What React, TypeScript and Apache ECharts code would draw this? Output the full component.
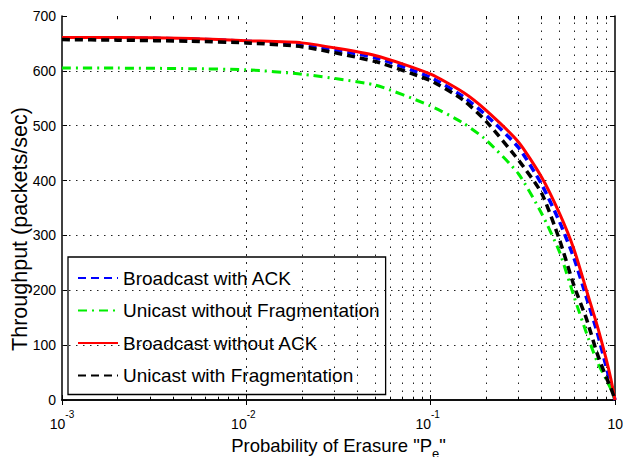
import React, { useEffect, useRef } from "react";
import * as echarts from "echarts";

// Probability of erasure (x) and throughput readings (packets/sec)
const pValues = [0.001, 0.002, 0.005, 0.01, 0.02, 0.05, 0.1, 0.15, 0.2, 0.3, 0.4, 0.5, 0.6, 0.7, 0.8, 0.9, 0.95, 1];
const broadcastWithAck = [660, 660, 658, 654, 648, 624, 588, 553, 519, 460, 393, 325, 258, 187, 124, 58, 28, 0];
const unicastWithoutFrag = [605, 605, 604, 602, 594, 574, 536, 505, 474, 412, 340, 270, 188, 122, 70, 36, 20, 0];
const broadcastWithoutAck = [661, 661, 659, 655, 651, 628, 594, 561, 528, 470, 406, 340, 274, 200, 136, 72, 38, 0];
const unicastWithFrag = [657, 656, 654, 651, 644, 617, 582, 547, 508, 437, 377, 292, 208, 148, 85, 40, 22, 0];

const seriesNames = [
  "Broadcast with ACK",
  "Unicast without Fragmentation",
  "Broadcast without ACK",
  "Unicast with Fragmentation",
];

const yMin = 0;
const yMax = 700;
const yInterval = 100;
const yGridValues = [100, 200, 300, 400, 500, 600];
const xMin = 0.001;
const xMax = 1;
const decades = [0.001, 0.01, 0.1];
const decadeGridValues = [0.01, 0.1];
const minorMultipliers = [2, 3, 4, 5, 6, 7, 8, 9];

const SANS = "'Liberation Sans', Arial, Helvetica, sans-serif";

export default function App() {
  const ref = useRef<HTMLDivElement>(null);

  useEffect(() => {
    if (!ref.current) return;
    const chart = echarts.init(ref.current, undefined, { renderer: "svg" });

    const toPairs = (vals: number[]) => pValues.map((p, i) => [p, vals[i]]);
    const minorPositions: number[] = [];
    decades.forEach((d) => minorMultipliers.forEach((m) => minorPositions.push(+(d * m).toPrecision(3))));

    const gridLines: any[] = [
      ...minorPositions.map((v) => ({ xAxis: v })),
      ...decadeGridValues.map((v) => ({ xAxis: v })),
      ...yGridValues.map((v) => ({ yAxis: v, lineStyle: { type: [1.5, 5.5] } })),
    ];
    const minorTickLen = 6;
    const minorTicks: any[] = [];
    minorPositions.forEach((v) => {
      minorTicks.push([{ coord: [v, yMin] }, { coord: [v, yMin + minorTickLen] }]);
      minorTicks.push([{ coord: [v, yMax] }, { coord: [v, yMax - minorTickLen] }]);
    });

    const xLabel = {
      margin: 9,
      padding: [0, 6, 0, 0],
      alignMinLabel: "center",
      alignMaxLabel: "center",
      formatter: (v: number) => {
        const exp = Math.round(Math.log10(v));
        const lead = v >= xMax ? "{sp2| }" : v <= xMin ? "{sp1| }" : "";
        return lead + `{b|10}{s|${exp}}`;
      },
      rich: {
        sp1: { width: 6, fontSize: 14, lineHeight: 22 },
        sp2: { width: 12, fontSize: 14, lineHeight: 22 },
        b: { fontSize: 14, fontFamily: SANS, color: "#000", lineHeight: 22, verticalAlign: "bottom" },
        s: { fontSize: 10, fontFamily: SANS, color: "#000", lineHeight: 10, verticalAlign: "top" },
      },
    };

    const helperData = [[xMin, yMin]];

    const option: any = {
      animation: false,
      backgroundColor: "#fff",
      grid: { left: 62, right: 16, top: 16, bottom: 65, containLabel: false, outerBoundsMode: "none" },
      legend: {
        data: seriesNames,
        orient: "vertical",
        left: 68,
        top: 257,
        itemWidth: 40,
        itemHeight: 14,
        itemGap: 10.5,
        padding: [10, 6, 8, 9],
        backgroundColor: "#fff",
        borderColor: "#000",
        borderWidth: 1.3,
        borderRadius: 0,
        itemStyle: { opacity: 0 },
        textStyle: { fontFamily: SANS, fontSize: 19, color: "#000", lineHeight: 22 },
      },
      xAxis: [
        {
          type: "log",
          logBase: 10,
          min: xMin,
          max: xMax,
          position: "bottom",
          name: '{a|Probability of Erasure "P}{e|e}{a|"}',
          nameLocation: "middle",
          nameGap: 25,
          nameTextStyle: {
            rich: {
              a: { fontSize: 18.5, fontFamily: SANS, color: "#000", lineHeight: 30 },
              e: { fontSize: 13, fontFamily: SANS, color: "#000", lineHeight: 10, verticalAlign: "bottom" },
            },
          },
          axisLine: { show: true, lineStyle: { color: "#000", width: 1.5 } },
          axisTick: { show: true, inside: true, length: 5, lineStyle: { color: "#000" } },
          axisLabel: xLabel,
          splitLine: { show: false },
        },
        {
          type: "log",
          logBase: 10,
          min: xMin,
          max: xMax,
          position: "top",
          axisLine: { show: true, lineStyle: { color: "#000", width: 1.5 } },
          axisTick: { show: true, inside: true, length: 5, lineStyle: { color: "#000" } },
          axisLabel: { show: false },
          splitLine: { show: false },
        },
      ],
      yAxis: [
        {
          type: "value",
          min: yMin,
          max: yMax,
          interval: yInterval,
          position: "left",
          name: "Throughput (packets/sec)",
          nameLocation: "middle",
          nameRotate: 90,
          nameGap: 31,
          nameMoveOverlap: false,
          nameTextStyle: { fontSize: 21.5, fontFamily: SANS, color: "#000", padding: [0, 42, 0, 0] },
          axisLine: { show: true, lineStyle: { color: "#000", width: 1.5 } },
          axisTick: { show: true, inside: true, length: 5, lineStyle: { color: "#000" } },
          axisLabel: { fontSize: 14, fontFamily: SANS, color: "#000", margin: 6 },
          splitLine: { show: false },
        },
        {
          type: "value",
          min: yMin,
          max: yMax,
          interval: yInterval,
          position: "right",
          axisLine: { show: true, lineStyle: { color: "#000", width: 1.5 } },
          axisTick: { show: true, inside: true, length: 5, lineStyle: { color: "#000" } },
          axisLabel: { show: false },
          splitLine: { show: false },
        },
      ],
      series: [
        {
          name: "grid-helper",
          type: "line",
          data: helperData,
          symbol: "none",
          lineStyle: { opacity: 0 },
          silent: true,
          z: 1,
          markLine: {
            silent: true,
            symbol: ["none", "none"],
            label: { show: false },
            lineStyle: { color: "#222", width: 1, type: [1.5, 6.5] },
            data: gridLines,
          },
        },
        {
          name: "tick-helper",
          type: "line",
          data: helperData,
          symbol: "none",
          lineStyle: { opacity: 0 },
          silent: true,
          z: 3,
          markLine: {
            silent: true,
            symbol: ["none", "none"],
            label: { show: false },
            lineStyle: { color: "#000", width: 1, type: "solid" },
            data: minorTicks,
          },
        },
        {
          name: seriesNames[0],
          type: "line",
          data: toPairs(broadcastWithAck),
          symbol: "none",
          smooth: 0.2,
          z: 5,
          lineStyle: { color: "#0000ff", width: 3.5, type: [8, 5] },
          itemStyle: { color: "#0000ff" },
        },
        {
          name: seriesNames[1],
          type: "line",
          data: toPairs(unicastWithoutFrag),
          symbol: "none",
          smooth: 0.2,
          z: 5,
          lineStyle: { color: "#00ee00", width: 3, type: [9, 5, 2, 5] },
          itemStyle: { color: "#00ee00" },
        },
        {
          name: seriesNames[2],
          type: "line",
          data: toPairs(broadcastWithoutAck),
          symbol: "none",
          smooth: 0.2,
          z: 5,
          lineStyle: { color: "#ff0000", width: 3, type: "solid" },
          itemStyle: { color: "#ff0000" },
        },
        {
          name: seriesNames[3],
          type: "line",
          data: toPairs(unicastWithFrag),
          symbol: "none",
          smooth: 0.2,
          z: 5,
          lineStyle: { color: "#000000", width: 3.5, type: [8, 5] },
          itemStyle: { color: "#000000" },
        },
      ],
    };

    chart.setOption(option);
    return () => chart.dispose();
  }, []);

  return <div ref={ref} style={{ width: 631, height: 465, margin: -8 }} />;
}
